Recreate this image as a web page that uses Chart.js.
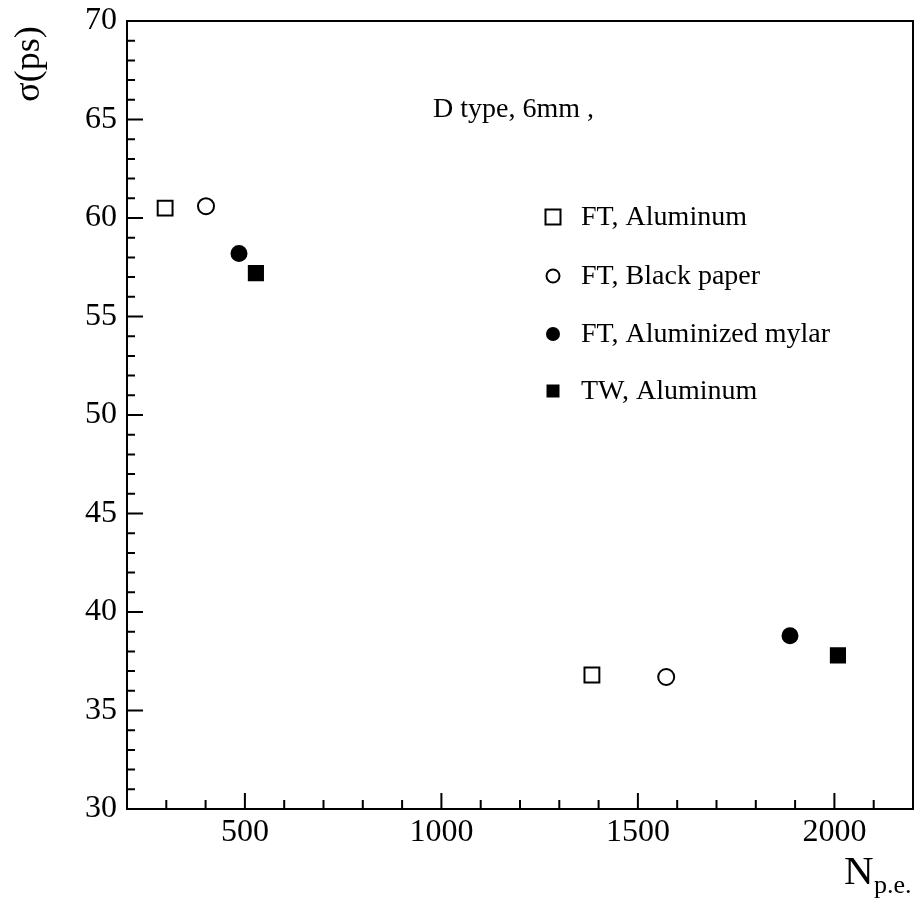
<!DOCTYPE html>
<html>
<head>
<meta charset="utf-8">
<script src="https://cdn.jsdelivr.net/npm/chart.js@4"></script>
<style>
  body { margin: 0; background: #fff; }
</style>
</head>
<body>
<canvas id="chart" width="920" height="909"></canvas>
<script>
// data
var seriesLabels = ['FT, Aluminum', 'FT, Black paper', 'FT, Aluminized mylar', 'TW, Aluminum'];
var ftAluX = [297, 1383];
var ftAluY = [60.5, 36.8];
var ftPaperX = [401, 1572];
var ftPaperY = [60.6, 36.7];
var ftMylarX = [485, 1887];
var ftMylarY = [58.2, 38.8];
var twAluX = [528, 2009];
var twAluY = [57.2, 37.8];
var xTickLabels = [500, 1000, 1500, 2000];
var yTickLabels = [30, 35, 40, 45, 50, 55, 60, 65, 70];

var FONT = '"Liberation Serif", "Times New Roman", serif';

function pts(xs, ys) {
    return xs.map(function (x, i) { return { x: x, y: ys[i] }; });
}

// marker style per series: [shape, filled]
var markers = [['rect', false], ['circle', false], ['circle', true], ['rect', true]];

function drawMarker(ctx, shape, filled, x, y, size) {
    ctx.save();
    ctx.lineWidth = 2;
    ctx.strokeStyle = '#000';
    ctx.fillStyle = '#000';
    ctx.beginPath();
    if (shape === 'rect') {
        ctx.rect(x - size / 2, y - size / 2, size, size);
    } else {
        ctx.arc(x, y, size / 2, 0, Math.PI * 2);
    }
    if (filled) ctx.fill(); else ctx.stroke();
    ctx.restore();
}

var framePlugin = {
    id: 'frame',
    afterDraw: function (chart) {
        var ctx = chart.ctx;
        var a = chart.chartArea;
        var xs = chart.scales.x, ys = chart.scales.y;
        ctx.save();
        ctx.strokeStyle = '#000';
        ctx.lineWidth = 2;
        ctx.strokeRect(a.left, a.top, a.right - a.left, a.bottom - a.top);

        // ticks inside the frame, minor and major
        ctx.beginPath();
        for (var v = xs.min; v <= xs.max; v += 100) {
            var px = xs.getPixelForValue(v);
            var len = (v % 500 === 0) ? 16 : 9;
            ctx.moveTo(px, a.bottom);
            ctx.lineTo(px, a.bottom - len);
        }
        for (var w = ys.min; w <= ys.max; w += 1) {
            var py = ys.getPixelForValue(w);
            var l2 = (w % 5 === 0) ? 16 : 8;
            ctx.moveTo(a.left, py);
            ctx.lineTo(a.left + l2, py);
        }
        ctx.stroke();

        // annotation
        ctx.fillStyle = '#000';
        ctx.textBaseline = 'alphabetic';
        ctx.textAlign = 'left';
        ctx.font = '28px ' + FONT;
        ctx.fillText('D type, 6mm ,', 433, 117);

        // legend
        var legY = [217, 276, 334, 391];
        var legSize = [15, 13, 14, 13];
        ctx.font = '28px ' + FONT;
        for (var i = 0; i < seriesLabels.length; i++) {
            drawMarker(ctx, markers[i][0], markers[i][1], 553, legY[i], legSize[i]);
            ctx.textBaseline = 'middle';
            ctx.fillText(seriesLabels[i], 581, legY[i] + 1);
        }

        // y axis title (rotated)
        ctx.save();
        ctx.translate(30, 64);
        ctx.rotate(-Math.PI / 2);
        ctx.textAlign = 'center';
        ctx.textBaseline = 'middle';
        ctx.font = '36px ' + FONT;
        ctx.fillText('σ(ps)', 0, 0);
        ctx.restore();

        // x axis title with subscript
        ctx.textAlign = 'left';
        ctx.textBaseline = 'alphabetic';
        ctx.font = '41px ' + FONT;
        ctx.fillText('N', 844, 884);
        ctx.font = '26px ' + FONT;
        ctx.fillText('p.e.', 874, 893);
        ctx.restore();
    }
};

var ds = [
    [ftAluX, ftAluY],
    [ftPaperX, ftPaperY],
    [ftMylarX, ftMylarY],
    [twAluX, twAluY]
].map(function (d, i) {
    var shape = markers[i][0], filled = markers[i][1];
    return {
        label: seriesLabels[i],
        data: pts(d[0], d[1]),
        pointStyle: shape,
        pointRadius: shape === 'rect' ? (filled ? 10 : 10.5) : (filled ? 7.5 : 8),
        pointBorderWidth: 2,
        pointBorderColor: '#000',
        pointBackgroundColor: filled ? '#000' : 'rgba(0,0,0,0)',
        showLine: false
    };
});

var ctx = document.getElementById('chart').getContext('2d');
var myChart = new Chart(ctx, {
    type: 'scatter',
    data: { datasets: ds },
    options: {
        responsive: false,
        animation: false,
        layout: { autoPadding: false, padding: { top: 21, right: 7, left: 0, bottom: 0 } },
        plugins: {
            legend: { display: false },
            tooltip: { enabled: false }
        },
        scales: {
            x: {
                type: 'linear',
                min: 200,
                max: 2200,
                grid: { display: false, drawTicks: false },
                border: { display: false },
                afterBuildTicks: function (scale) {
                    scale.ticks = xTickLabels.map(function (v) { return { value: v }; });
                },
                afterFit: function (scale) {
                    scale.height = 100;
                    scale.paddingLeft = 0;
                    scale.paddingRight = 0;
                },
                ticks: {
                    padding: 4,
                    maxRotation: 0,
                    color: '#000',
                    font: { family: FONT, size: 32 },
                    callback: function (v) { return String(v); }
                }
            },
            y: {
                type: 'linear',
                min: 30,
                max: 70,
                grid: { display: false, drawTicks: false },
                border: { display: false },
                afterBuildTicks: function (scale) {
                    scale.ticks = yTickLabels.map(function (v) { return { value: v }; });
                },
                afterFit: function (scale) {
                    scale.width = 127;
                    scale.paddingTop = 0;
                    scale.paddingBottom = 0;
                },
                ticks: {
                    padding: 10,
                    color: '#000',
                    font: { family: FONT, size: 32 },
                    callback: function (v) { return String(v); }
                }
            }
        }
    },
    plugins: [framePlugin]
});
</script>
</body>
</html>
